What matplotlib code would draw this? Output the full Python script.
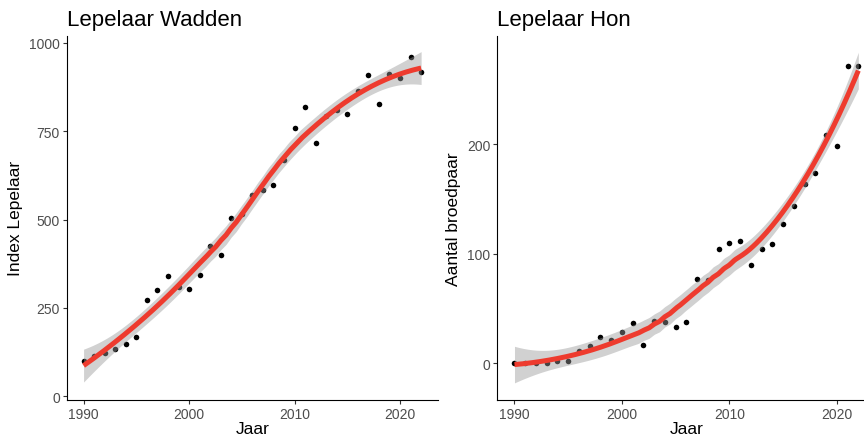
import numpy as np
import matplotlib
matplotlib.use("Agg")
import matplotlib.pyplot as plt

plt.rcParams['font.family'] = ['Liberation Sans', 'DejaVu Sans']

# Spoonbill data: national index (Wadden Sea) and breeding pairs (Hon)
years = np.arange(1990, 2023)

wadden_index = [100, 115, 123, 135, 147, 167, 272, 302, 340, 308, 304,
                343, 426, 400, 505, 516, 571, 585, 598, 669, 760, 819,
                717, 792, 810, 798, 865, 908, 827, 913, 900, 960, 919]

hon_pairs = [0, 0, 0, 0, 2, 2, 11, 16, 24, 21, 29,
             37, 17, 39, 38, 33, 38, 77, 76, 104, 110, 112,
             90, 104, 109, 127, 144, 164, 174, 209, 199, 272, 272]

panel_titles = ["Lepelaar Wadden", "Lepelaar Hon"]
y_labels = ["Index Lepelaar", "Aantal broedpaar"]
x_label = "Jaar"
x_ticks = [1990, 2000, 2010, 2020]
y_ticks = [[0, 250, 500, 750, 1000], [0, 100, 200]]


def loess_fit(x, y, grid, span=0.75):
    """Local quadratic regression with tricube weights and 95% band."""
    x = np.asarray(x, float)
    y = np.asarray(y, float)
    n = len(x)
    q = int(np.floor(n * span))

    def weights_row(x0):
        d = np.abs(x - x0)
        h = np.sort(d)[q - 1]
        u = np.clip(d / h, 0, 1)
        w = (1 - u ** 3) ** 3
        X = np.column_stack([np.ones(n), x - x0, (x - x0) ** 2])
        W = np.diag(w)
        A = X.T @ W @ X
        return (np.linalg.solve(A, X.T @ W))[0]

    L = np.array([weights_row(xi) for xi in x])
    resid = y - L @ y
    M = np.eye(n) - L
    MtM = M.T @ M
    d1 = np.trace(MtM)
    d2 = np.trace(MtM @ MtM)
    sigma = np.sqrt(np.sum(resid ** 2) / d1)
    df = d1 ** 2 / d2
    z = 1.959964
    t = z + (z ** 3 + z) / (4 * df) + (5 * z ** 5 + 16 * z ** 3 + 3 * z) / (96 * df ** 2)

    fit, se = [], []
    for g in grid:
        l = weights_row(g)
        fit.append(l @ y)
        se.append(sigma * np.sqrt(np.sum(l ** 2)))
    fit = np.array(fit)
    se = np.array(se)
    return fit, fit - t * se, fit + t * se


fig = plt.figure(figsize=(8.64, 4.39), dpi=100)
ax_positions = [
    [66.7 / 864, 1 - 401 / 439, (438 - 66.7) / 864, (401 - 36.7) / 439],
    [497.3 / 864, 1 - 401 / 439, (875.5 - 497.3) / 864, (401 - 36.7) / 439],
]
y_limits = [(-10.5, 1020.6), (-33.6, 299.4)]
series = [wadden_index, hon_pairs]

grid = np.linspace(1990, 2022, 200)

for i in range(2):
    ax = fig.add_axes(ax_positions[i])
    vals = series[i]
    fit, lo, hi = loess_fit(years, vals, grid)

    ax.scatter(years, vals, s=16, color="black", zorder=1, linewidths=0)
    ax.fill_between(grid, lo, hi, color="#999999", alpha=0.45,
                    linewidth=0, zorder=2)
    ax.plot(grid, fit, color="#EE3B2E", linewidth=3.6, zorder=3,
            solid_capstyle="butt")

    ax.set_xlim(1988.4, 2023.6)
    ax.set_ylim(*y_limits[i])
    ax.set_xticks(x_ticks)
    ax.set_yticks(y_ticks[i])

    for side in ("top", "right"):
        ax.spines[side].set_visible(False)
    for side in ("left", "bottom"):
        ax.spines[side].set_linewidth(0.8)
        ax.spines[side].set_color("black")

    ax.tick_params(axis="both", length=3, width=0.8, color="#333333",
                   labelcolor="#4D4D4D", labelsize=10, pad=2)

    ax.set_title(panel_titles[i], loc="left", fontsize=16, pad=7.5,
                 color="black")
    ax.set_xlabel(x_label, fontsize=12.5, labelpad=0)
    ax.set_ylabel(y_labels[i], fontsize=12.5, labelpad=4)

fig.savefig("out.png", dpi=100)
